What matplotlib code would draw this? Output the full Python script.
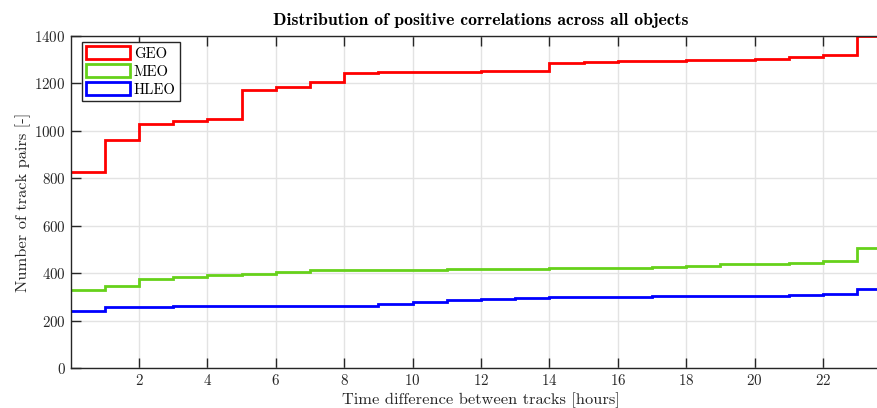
import numpy as np
import matplotlib
matplotlib.use("Agg")
import matplotlib.pyplot as plt
from matplotlib.patches import Patch

hours = np.arange(0, 25)  # bin edges [hours]
geo = [828, 960, 1030, 1043, 1050, 1171, 1185, 1208, 1244, 1248, 1249, 1250,
       1252, 1254, 1285, 1292, 1294, 1296, 1299, 1300, 1304, 1310, 1318, 1400]
meo = [328, 346, 375, 385, 392, 396, 405, 412, 412, 412, 413, 416,
       418, 418, 423, 423, 423, 427, 431, 437, 439, 444, 451, 505]
hleo = [242, 257, 257, 260, 260, 261, 263, 263, 263, 270, 277, 285,
        292, 295, 298, 298, 301, 302, 302, 302, 303, 306, 311, 334]
labels = ["GEO", "MEO", "HLEO"]
colors = ["#ff0000", "#66d11a", "#0000ff"]
xticks = list(range(2, 23, 2))
yticks = list(range(0, 1401, 200))

plt.rcParams["font.family"] = "serif"
plt.rcParams["font.serif"] = ["cmr10"]
plt.rcParams["mathtext.fontset"] = "cm"
plt.rcParams["axes.formatter.use_mathtext"] = True

fig = plt.figure(figsize=(8.77, 4.08), dpi=100)
ax = fig.add_axes([70.6 / 877, 1 - 368 / 408, (891.4 - 70.6) / 877, (368 - 36) / 408])

for vals, c in zip([geo, meo, hleo], colors):
    ax.stairs(vals, hours, color=c, linewidth=2.0, baseline=None)

ax.set_xlim(0, 24)
ax.set_ylim(0, 1400)
ax.set_xticks(xticks)
ax.set_yticks(yticks)
ax.grid(True, color="#e3e3e3", linewidth=1.0)
ax.set_axisbelow(True)
for s in ax.spines.values():
    s.set_color("#262626")
    s.set_linewidth(1.0)
ax.tick_params(direction="in", top=True, right=True, length=7, width=1.0,
               color="#262626", labelsize=10.8, labelcolor="#262626")
ax.set_xlabel("Time difference between tracks [hours]", fontsize=11.8, labelpad=3, color="#262626")
ax.set_ylabel("Number of track pairs [-]", fontsize=11.8, labelpad=2.5, color="#262626")
ax.set_title("Distribution of positive correlations across all objects",
             fontsize=12.7, fontfamily="cmb10", pad=8)

handles = [Patch(facecolor="white", edgecolor=c, linewidth=2.0) for c in colors]
leg = ax.legend(handles, labels, loc="upper left", bbox_to_anchor=(0.0135, 0.982),
                fontsize=10.6, frameon=True, fancybox=False, framealpha=1,
                edgecolor="#262626", handlelength=2.95, handleheight=0.95,
                handletextpad=0.3, labelspacing=0.24, borderpad=0.3, borderaxespad=0)
leg.get_frame().set_linewidth(1.0)

fig.savefig("out.png", dpi=100)
